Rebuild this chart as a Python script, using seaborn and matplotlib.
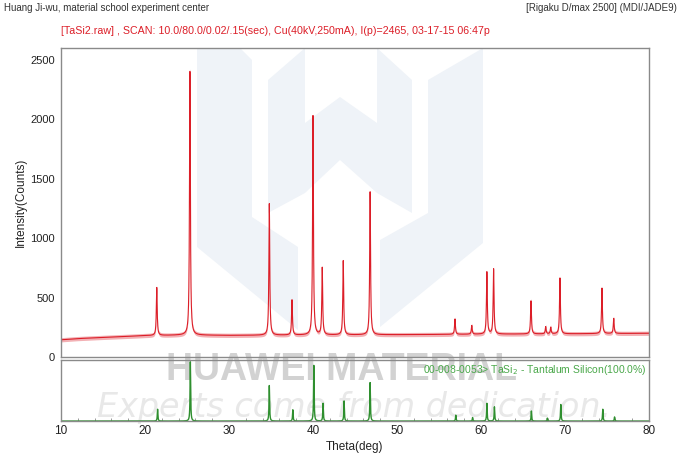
import numpy as np
import pandas as pd
import matplotlib.pyplot as plt
from matplotlib.patches import Polygon
import seaborn as sns

peak_pos = [21.4, 25.35, 34.8, 37.5, 40.0, 41.1, 43.6, 46.8, 56.9, 58.9,
            60.7, 61.5, 65.95, 67.7, 68.3, 69.4, 74.4, 75.8]
peak_top = [585, 2465, 1290, 480, 2030, 750, 810, 1390, 320, 265,
            715, 740, 480, 255, 250, 665, 580, 325]

# background level read at a few angles
bg_pos = [10, 12, 15, 20, 25, 30, 40, 50, 60, 70, 80]
bg_cnt = [145, 155, 165, 180, 185, 182, 185, 188, 192, 195, 200]

# PDF card 00-008-0053 TaSi2 reference lines (relative intensity %)
ref_pos = [21.5, 25.4, 34.8, 37.6, 40.1, 41.2, 43.7, 46.8, 57.0, 59.0,
           60.7, 61.6, 66.0, 67.9, 69.5, 74.5, 75.9]
ref_int = [20, 100, 60, 19, 94, 30, 34, 65, 10, 6,
           30, 24, 17, 5, 28, 20, 7]

RED = '#dc1e28'
GREEN = '#2f8f2f'
GREY = '#8a8a8a'
W, H = 680, 471


def profile(x, pos, amp, hw):
    y = np.zeros_like(x)
    for p, a in zip(pos, amp):
        y += a / (1 + ((x - p) / hw) ** 2)
    return y


def px(pts):
    # pixel coords (top-left origin) -> figure fraction
    return [(x / W, 1 - y / H) for x, y in pts]


# 2theta grid of the scan: 10.0/80.0/0.02
theta = np.arange(10.0, 80.0 + 1e-9, 0.02)
bg = np.interp(theta, bg_pos, bg_cnt)
amp = np.array(peak_top) - np.interp(peak_pos, bg_pos, bg_cnt)
counts = bg + profile(theta, peak_pos, amp, 0.06)
scan = pd.DataFrame({'theta': theta, 'counts': counts})

ref = pd.DataFrame({'theta': theta,
                    'rel': profile(theta, ref_pos, ref_int, 0.04)})

sns.set_style('white')
plt.rcParams['font.family'] = ['Liberation Sans', 'DejaVu Sans']

fig = plt.figure(figsize=(W / 100, H / 100), dpi=100)
ax = fig.add_axes([0.0897, 0.242, 0.8647, 0.656])
ax2 = fig.add_axes([0.0897, 0.106, 0.8647, 0.1295])

# pale logo + text watermark behind everything
logo = [
    [(197, 48), (240, 48), (252, 60), (252, 217), (298, 247), (298, 330), (197, 247)],
    [(268, 80), (305, 48), (305, 123), (340, 97), (377, 123), (377, 48), (412, 80),
     (412, 213), (377, 193), (340, 160), (305, 193), (268, 213)],
    [(428, 80), (483, 48), (483, 243), (380, 327), (380, 240), (428, 213)],
]
for shape in logo:
    fig.add_artist(Polygon(px(shape), closed=True, transform=fig.transFigure,
                           facecolor='#eff3f8', edgecolor='none', zorder=-2))
fig.text(0.502, 0.193, 'HUAWEI MATERIAL', ha='center', va='baseline', fontsize=27,
         fontweight='bold', color='#d2d2d2', zorder=-1)
fig.text(0.52, 0.115, 'Experts come from dedication.', ha='center', va='baseline',
         fontsize=24, style='italic', family='DejaVu Sans', color='#e8e8e8',
         zorder=-1)

# main scan
ax.fill_between(scan['theta'], scan['counts'] - 18, scan['counts'] + 18,
                color=RED, alpha=0.35, lw=0)
sns.lineplot(data=scan, x='theta', y='counts', ax=ax, color=RED, lw=0.8)
ax.set_xlim(10, 80)
ax.set_ylim(0, 2600)
ax.set_yticks([0, 500, 1000, 1500, 2000, 2500])
ax.set_xticks([])
ax.set_xlabel('')
ax.set_ylabel('Intensity(Counts)', fontsize=8.5, color='#222222', labelpad=2)
ax.tick_params(axis='y', direction='out', length=3, width=0.8, color=GREY,
               labelsize=8, labelcolor='#222222', pad=1.5)
ax.patch.set_alpha(0)

# reference card
sns.lineplot(data=ref, x='theta', y='rel', ax=ax2, color=GREEN, lw=1.0)
ax2.set_xlim(10, 80)
ax2.set_ylim(0, 103)
ax2.set_yticks([])
ax2.set_xticks(range(10, 81, 10))
ax2.set_xticks(range(10, 81, 2), minor=True)
ax2.tick_params(axis='x', which='major', direction='in', length=3, width=0.8,
                color=GREY, labelsize=8.5, labelcolor='#222222', pad=3)
ax2.tick_params(axis='x', which='minor', direction='in', length=2, width=0.6,
                color=GREY, bottom=True)
ax2.set_xlabel('Theta(deg)', fontsize=8.5, color='#222222', labelpad=3)
ax2.set_ylabel('')
ax2.patch.set_alpha(0)
ax2.text(0.995, 0.96, '00-008-0053> TaSi$_2$ - Tantalum Silicon(100.0%)',
         transform=ax2.transAxes, ha='right', va='top', fontsize=7.5,
         color='#4aa84a')

for a in (ax, ax2):
    for s in a.spines.values():
        s.set_color(GREY)
        s.set_linewidth(1.0)

# header
fig.text(0.006, 0.983, 'Huang Ji-wu, material school experiment center',
         ha='left', va='center', fontsize=7, color='#333333')
fig.text(0.996, 0.983, '[Rigaku D/max 2500] (MDI/JADE9)',
         ha='right', va='center', fontsize=7, color='#333333')
fig.text(0.0897, 0.934,
         '[TaSi2.raw] , SCAN: 10.0/80.0/0.02/.15(sec), Cu(40kV,250mA), '
         'I(p)=2465, 03-17-15 06:47p',
         ha='left', va='center', fontsize=7.7, color=RED)

fig.savefig('out.png', dpi=100)
